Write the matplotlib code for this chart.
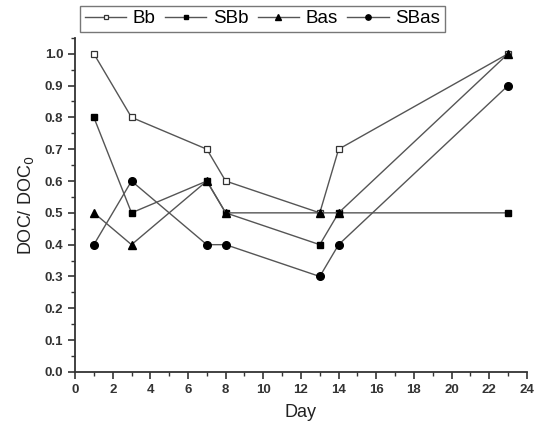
import matplotlib.pyplot as plt
from matplotlib.ticker import MultipleLocator

plt.rcParams['font.family'] = ['Liberation Sans', 'DejaVu Sans']

days = [1, 3, 7, 8, 13, 14, 23]
bb = [1.0, 0.8, 0.7, 0.6, 0.5, 0.7, 1.0]
sbb = [0.8, 0.5, 0.6, 0.5, 0.4, 0.5, 0.5]
bas = [0.5, 0.4, 0.6, 0.5, 0.5, 0.5, 1.0]
sbas = [0.4, 0.6, 0.4, 0.4, 0.3, 0.4, 0.9]

fig = plt.figure(figsize=(5.36, 4.3), dpi=100)
ax = fig.add_axes([0.140, 0.135, 0.843, 0.777])

lc = '#555555'
ax.plot(days, bb, '-s', color=lc, lw=1, mfc='white', mec='#333333', ms=4.8, mew=0.9, label='Bb')
ax.plot(days, sbb, '-s', color=lc, lw=1, mfc='black', mec='black', ms=4.8, label='SBb')
ax.plot(days, bas, '-^', color=lc, lw=1, mfc='black', mec='black', ms=5.5, label='Bas')
ax.plot(days, sbas, '-o', color=lc, lw=1, mfc='black', mec='black', ms=5.5, label='SBas')

ax.set_xlim(0, 24)
ax.set_ylim(0, 1.05)
ax.xaxis.set_major_locator(MultipleLocator(2))
ax.xaxis.set_minor_locator(MultipleLocator(1))
ax.yaxis.set_minor_locator(MultipleLocator(0.05))
ax.set_yticks([i / 10 for i in range(11)])
ax.set_yticklabels([f'{i / 10:.1f}' for i in range(11)])

for s in ['top', 'right']:
    ax.spines[s].set_visible(False)
for s in ['left', 'bottom']:
    ax.spines[s].set_linewidth(1.3)
    ax.spines[s].set_color('#333333')

ax.tick_params(which='major', direction='out', length=5, width=1.2, color='#333333',
               labelsize=9.5, labelcolor='#333333')
ax.tick_params(which='minor', direction='out', length=3, width=1.0, color='#333333')
for lab in ax.get_xticklabels() + ax.get_yticklabels():
    lab.set_fontweight('bold')

ax.set_xlabel('Day', fontsize=13, color='#222222', labelpad=6)
ax.set_ylabel('DOC/ DOC$_0$', fontsize=13, color='#222222', labelpad=6)

leg = fig.legend(loc='upper left', bbox_to_anchor=(0.15, 0.987), ncol=4, frameon=True,
                 fancybox=False, edgecolor='#555555', fontsize=13.5, handlelength=2.2,
                 markerscale=0.7, columnspacing=0.5, handletextpad=0.35,
                 borderpad=0.25, borderaxespad=0)
leg.get_frame().set_linewidth(1.0)

fig.savefig('out.png', dpi=100)
